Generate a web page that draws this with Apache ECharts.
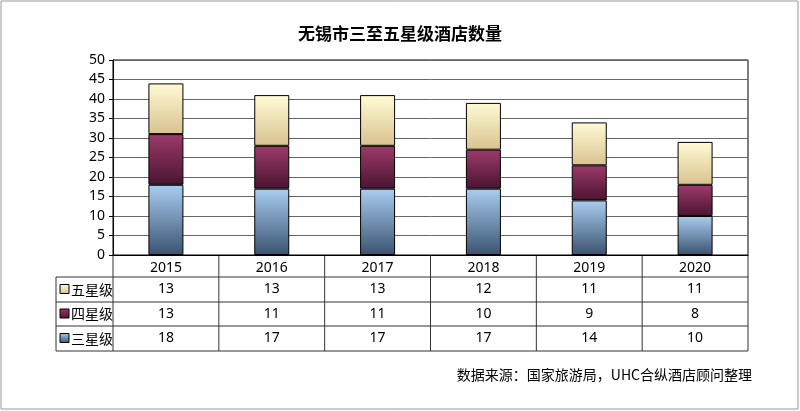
<!DOCTYPE html>
<html><head><meta charset="utf-8">
<script src="https://cdn.jsdelivr.net/npm/echarts@6/dist/echarts.min.js"></script>
<style>html,body{margin:0;padding:0;background:#fff}#c{width:800px;height:411px}</style>
</head><body><div id="c"></div>
<script>
var years = ['2015', '2016', '2017', '2018', '2019', '2020'];
var seriesNames = ['五星级', '四星级', '三星级'];
var five = [13, 13, 13, 12, 11, 11];
var four = [13, 11, 11, 10, 9, 8];
var three = [18, 17, 17, 17, 14, 10];
var title = '无锡市三至五星级酒店数量';
var source = '数据来源：国家旅游局，UHC合纵酒店顾问整理';

function grad(top, bottom) {
    return new echarts.graphic.LinearGradient(0, 0, 0, 1, [
        {offset: 0, color: top}, {offset: 1, color: bottom}
    ]);
}
var colors = {
    '五星级': grad('#fffbd6', '#d9c28f'),
    '四星级': grad('#9c3a6a', '#4a1530'),
    '三星级': grad('#a9cdf0', '#3b5371')
};
var rowData = {'五星级': five, '四星级': four, '三星级': three};

var L = 113, R = 748, T = 60, B = 255;
var rows = [277, 302, 326, 351];
var colW = (R - L) / years.length;

var g = [];
var line = function (x1, y1, x2, y2) {
    g.push({type: 'line', shape: {x1: x1, y1: y1, x2: x2, y2: y2}, style: {stroke: '#333', lineWidth: 1}});
};
// table lines
line(L, B, L, rows[3]);
line(R, B, R, rows[3]);
line(56, rows[0], 56, rows[3]);
for (var i = 1; i < years.length; i++) line(L + colW * i, B, L + colW * i, rows[3]);
rows.forEach(function (y) { line(56, y, R, y); });
seriesNames.forEach(function (name, r) {
    var yc = (rows[r] + rows[r + 1]) / 2;
    g.push({type: 'rect', shape: {x: 60, y: yc - 5, width: 9, height: 9},
        style: {fill: colors[name], stroke: '#000', lineWidth: 1}});
    g.push({type: 'text', x: 71, y: yc, style: {text: name, fill: '#000', font: '14px "Noto Sans CJK SC"', verticalAlign: 'middle'}});
    rowData[name].forEach(function (v, k) {
        g.push({type: 'text', x: L + colW * (k + 0.5), y: yc, style: {text: String(v), fill: '#000',
            font: '14px "Noto Sans"', align: 'center', verticalAlign: 'middle'}});
    });
});
g.push({type: 'text', right: 48, top: 368, style: {text: source, fill: '#000', font: '14px "Noto Sans CJK SC"'}});
g.push({type: 'rect', shape: {x: 1, y: 1, width: 797, height: 408}, style: {fill: 'none', stroke: '#999', lineWidth: 1}});

var chart = echarts.init(document.getElementById('c'));
chart.setOption({
    animation: false,
    title: {text: title, left: 'center', top: 20, textStyle: {fontSize: 17, fontWeight: 'bold', color: '#000', fontFamily: 'Noto Sans CJK SC'}},
    grid: {left: L, right: 800 - R, top: T, bottom: 411 - B, show: true, borderColor: '#000', borderWidth: 1},
    xAxis: {type: 'category', data: years, axisLine: {lineStyle: {color: '#000'}}, axisTick: {show: false},
        axisLabel: {color: '#000', fontSize: 14, margin: 6, fontFamily: 'Noto Sans'}},
    yAxis: {type: 'value', min: 0, max: 50, interval: 5, axisLine: {show: true, lineStyle: {color: '#000'}},
        axisTick: {show: true, length: 4, lineStyle: {color: '#000'}},
        axisLabel: {color: '#000', fontSize: 14, margin: 8, fontFamily: 'Noto Sans'},
        splitLine: {lineStyle: {color: '#666', width: 1}}},
    series: [
        {name: '三星级', type: 'bar', stack: 's', data: three, barWidth: 35, itemStyle: {color: colors['三星级'], borderColor: '#000', borderWidth: 1}},
        {name: '四星级', type: 'bar', stack: 's', data: four, barWidth: 35, itemStyle: {color: colors['四星级'], borderColor: '#000', borderWidth: 1}},
        {name: '五星级', type: 'bar', stack: 's', data: five, barWidth: 35, itemStyle: {color: colors['五星级'], borderColor: '#000', borderWidth: 1}}
    ],
    graphic: g
});
</script></body></html>
